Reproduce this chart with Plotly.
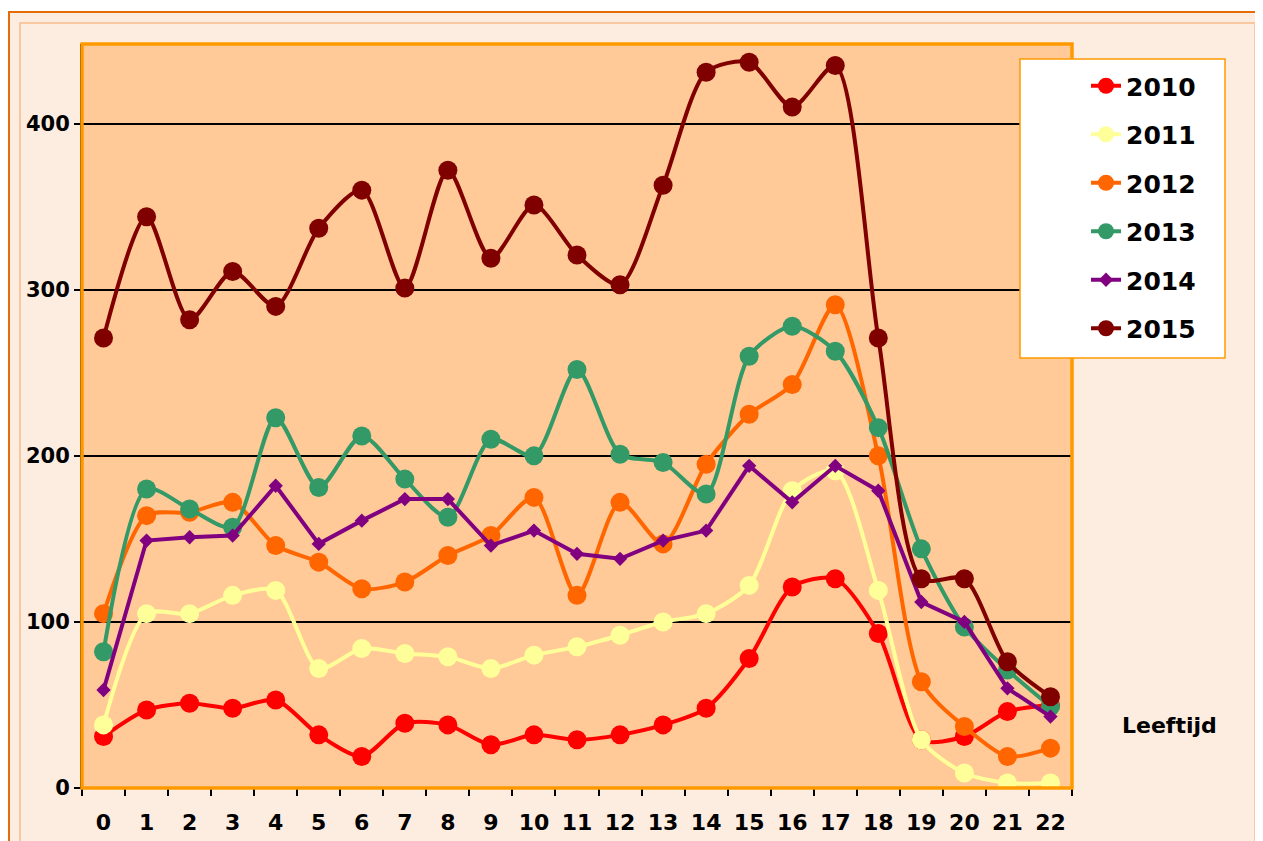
import plotly.graph_objects as go

ages = [str(i) for i in range(23)]
years = ["2010", "2011", "2012", "2013", "2014", "2015"]

v2010 = [31, 47, 51, 48, 53, 32, 19, 39, 38, 26, 32, 29, 32, 38, 48, 78, 121, 126, 93, 29, 31, 46, 50]
v2011 = [38, 105, 105, 116, 119, 72, 84, 81, 79, 72, 80, 85, 92, 100, 105, 122, 179, 191, 119, 29, 9, 3, 3]
v2012 = [105, 164, 166, 172, 146, 136, 120, 124, 140, 152, 175, 116, 172, 147, 195, 225, 243, 291, 200, 64, 37, 19, 24]
v2013 = [82, 180, 168, 157, 223, 181, 212, 186, 163, 210, 200, 252, 201, 196, 177, 260, 278, 263, 217, 144, 97, 71, 49]
v2014 = [59, 149, 151, 152, 182, 147, 161, 174, 174, 146, 155, 141, 138, 149, 155, 194, 172, 194, 179, 112, 100, 60, 43]
v2015 = [271, 344, 282, 311, 290, 337, 360, 301, 372, 319, 351, 321, 303, 363, 431, 437, 410, 435, 271, 126, 126, 76, 55]

series = [v2010, v2011, v2012, v2013, v2014, v2015]
colors = ["#FF0000", "#FFFF99", "#FF6600", "#339966", "#800080", "#800000"]
symbols = ["circle", "circle", "circle", "circle", "diamond", "circle"]
msizes = [19, 19, 19, 19, 11, 19]
shapes_line = ["spline", "spline", "spline", "spline", "linear", "spline"]

FONT = "DejaVu Sans"

fig = go.Figure()
for name, vals, c, sym, ms, ls in zip(years, series, colors, symbols, msizes, shapes_line):
    fig.add_trace(go.Scatter(
        x=ages, y=vals, name=name, mode="lines+markers",
        line=dict(color=c, width=4, shape=ls, smoothing=0.75),
        marker=dict(color=c, size=ms, symbol=sym),
        legendgroup=name,
    ))

# page offset (body margin) and plot geometry in screen px
OFF = 8
FW, FH = 1263 - OFF, 841 - OFF
L, R, T, B = 82, 1072, 44, 788
W, H = R - L, B - T
def px(x):
    return (x - L) / W
def py(y):
    return (B - y) / H

shapes = [
    # outer frame
    dict(type="rect", xref="paper", yref="paper", layer="below",
         x0=px(9), x1=px(1275), y0=py(860), y1=py(12),
         fillcolor="#FDEDE1", line=dict(color="#E46C0A", width=2)),
    dict(type="rect", xref="paper", yref="paper", layer="below",
         x0=px(20), x1=px(1255), y0=py(860), y1=py(23),
         fillcolor="rgba(0,0,0,0)", line=dict(color="#FAC8A0", width=2)),
    # plot area fill
    dict(type="rect", xref="paper", yref="paper", layer="below",
         x0=0, x1=1, y0=0, y1=1,
         fillcolor="#FFCA98", line=dict(width=0)),
    # plot area border
    dict(type="rect", xref="paper", yref="paper", layer="above",
         x0=0, x1=1, y0=0, y1=1,
         line=dict(color="#FF9900", width=3.5)),
    # legend box
    dict(type="rect", xref="paper", yref="paper", layer="above",
         x0=px(1020), x1=px(1225), y0=py(358), y1=py(59),
         fillcolor="#FFFFFF", line=dict(color="#FF9900", width=1.5)),
]

fig.update_layout(
    width=FW, height=FH,
    margin=dict(l=L - OFF, r=FW - (R - OFF), t=T - OFF, b=FH - (B - OFF), autoexpand=False),
    paper_bgcolor="#FFFFFF",
    plot_bgcolor="#FFCA98",
    shapes=shapes,
    showlegend=True,
    legend=dict(
        x=px(1086), y=py(63), xanchor="left", yanchor="top",
        bgcolor="rgba(0,0,0,0)", borderwidth=0,
        font=dict(family=FONT, size=25, color="#000000", weight="bold"),
        tracegroupgap=13,
        itemsizing="trace",
    ),
    annotations=[dict(
        text="<b>Leeftijd</b>", xref="paper", yref="paper",
        x=px(1169), y=py(725), xanchor="center", yanchor="middle", showarrow=False,
        font=dict(family=FONT, size=22, color="#000000"),
    )],
)

fig.update_xaxes(
    type="category", tickson="boundaries", range=[-0.5, 22.5],
    ticks="outside", ticklen=7, tickwidth=1.5, tickcolor="#000000",
    showline=True, linecolor="#000000", linewidth=1,
    showgrid=False, zeroline=False, automargin=False,
    tickfont=dict(family=FONT, size=22, color="#000000", weight="bold"),
    ticklabelstandoff=15,
)
fig.update_yaxes(
    range=[0, 448], tickvals=[0, 100, 200, 300, 400],
    ticks="outside", ticklen=6, tickwidth=1.5, tickcolor="#000000",
    showline=True, linecolor="#000000", linewidth=2,
    showgrid=True, gridcolor="#000000", gridwidth=1.5,
    zeroline=False, automargin=False,
    tickfont=dict(family=FONT, size=21, color="#000000", weight="bold"),
)

fig.write_html("out.html")
